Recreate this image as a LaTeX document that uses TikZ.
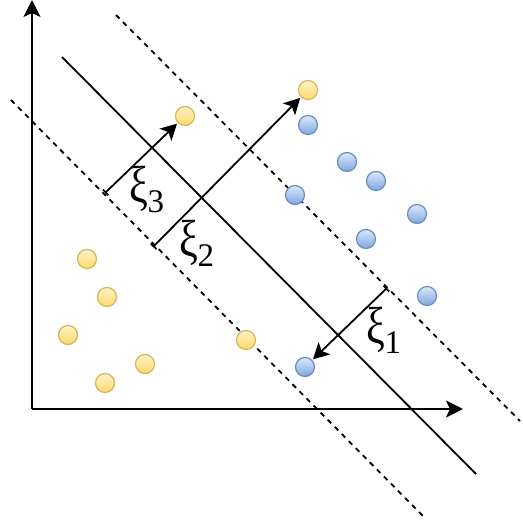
\documentclass[tikz,border=0pt]{standalone}
\usepackage{fontspec}
\setmainfont{Liberation Serif}
\usetikzlibrary{arrows.meta}
\definecolor{ytop}{HTML}{FFF2CC}
\definecolor{ybot}{HTML}{FFD966}
\definecolor{ystroke}{HTML}{D6B656}
\definecolor{btop}{HTML}{DAE8FC}
\definecolor{bbot}{HTML}{7EA6E0}
\definecolor{bstroke}{HTML}{6C8EBF}
\tikzset{
  ypt/.style={circle, minimum size=19pt, inner sep=0pt, draw=ystroke, line width=1.2pt, top color=ytop, bottom color=ybot},
  bpt/.style={circle, minimum size=19pt, inner sep=0pt, draw=bstroke, line width=1.2pt, top color=btop, bottom color=bbot},
  axis/.style={line width=2pt, -{Stealth[length=17pt,width=17pt,inset=4pt]}},
  sep/.style={line width=1.8pt},
  margin/.style={line width=1.8pt, dash pattern=on 5pt off 5pt},
  slack/.style={line width=1.8pt, {Bar[width=8pt,line width=1.8pt]}-{Stealth[length=16pt,width=17pt,inset=4pt]}, shorten >=1pt},
  lbl/.style={inner sep=0pt, font=\fontsize{40}{42}\selectfont}
}
\newcommand{\xisub}[1]{\scalebox{1.05}[1.3]{ξ}\kern-1pt\raisebox{-10pt}{\fontsize{33}{35}\selectfont #1}}
\begin{document}
\begin{tikzpicture}[x=1pt,y=-1pt]
\useasboundingbox (0,0) rectangle (523,522);
% axes
\coordinate (O) at (32,409);
\coordinate (Ytip) at (32,0);
\coordinate (Xtip) at (463,409);
\draw[axis] (O) -- (Ytip);
\draw[axis] (O) -- (Xtip);
% separating line and margins
\coordinate (s1) at (62,57);
\coordinate (s2) at (476,474);
\coordinate (u1) at (116,15);
\coordinate (u2) at (520,421);
\coordinate (l1) at (11,100);
\coordinate (l2) at (423,516);
\draw[sep] (s1) -- (s2);
\draw[margin] (u1) -- (u2);
\draw[margin] (l1) -- (l2);
% yellow points
\node[ypt] (y1) at (185,116) {};
\node[ypt] (y2) at (308,90) {};
\node[ypt] (y3) at (87,259) {};
\node[ypt] (y4) at (107,297) {};
\node[ypt] (y5) at (68,335) {};
\node[ypt] (y6) at (145,364) {};
\node[ypt] (y7) at (105,383) {};
\node[ypt] (y8) at (246,340) {};
% blue points
\node[bpt] (b1) at (308,125) {};
\node[bpt] (b2) at (347,162) {};
\node[bpt] (b3) at (376,181) {};
\node[bpt] (b4) at (295,195) {};
\node[bpt] (b5) at (417,214) {};
\node[bpt] (b6) at (366,239) {};
\node[bpt] (b7) at (427,296) {};
\node[bpt] (b8) at (305,367) {};
% slack arrows
\coordinate (t3) at (105,193);
\coordinate (t2) at (153,247);
\coordinate (t1) at (387,288);
\draw[slack] (t3) -- (y1);
\draw[slack] (t2) -- (y2);
\draw[slack] (t1) -- (b8);
% labels
\node[lbl] (x3) at (147,189) {\xisub{3}};
\node[lbl] (x2) at (197,243) {\xisub{2}};
\node[lbl] (x1) at (384,330) {\xisub{1}};
\end{tikzpicture}
\end{document}
